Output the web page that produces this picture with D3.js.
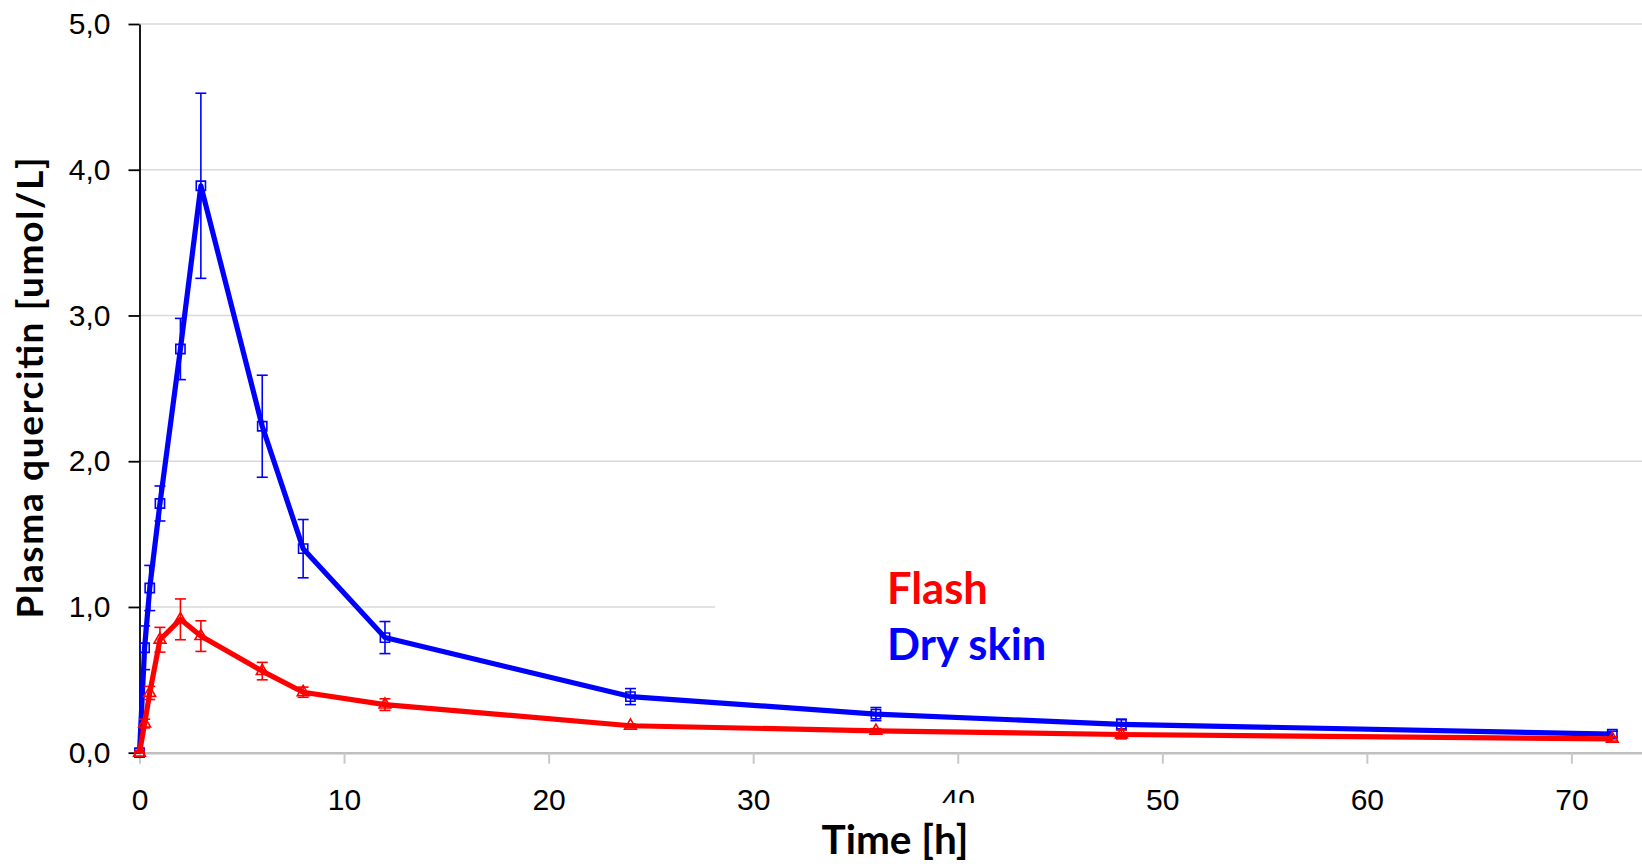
<!DOCTYPE html>
<html>
<head>
<meta charset="utf-8">
<script src="https://cdn.jsdelivr.net/npm/d3@7"></script>
<style>
    body { margin: 0; background: #fff; }
    svg { display: block; }
</style>
</head>
<body>
<svg id="chart" width="1642" height="864"></svg>
<script>
// sampling times [h]
var times = [0, 0.25, 0.5, 1, 2, 3, 6, 8, 12, 24, 36, 48, 72];
// plasma quercitin, mean and error [umol/L]
var drySkin    = [0, 0.72, 1.13, 1.71, 2.77, 3.89, 2.24, 1.40, 0.79, 0.385, 0.265, 0.195, 0.128];
var drySkinErr = [0.01, 0.15, 0.155, 0.12, 0.21, 0.635, 0.35, 0.20, 0.11, 0.055, 0.045, 0.035, 0.02];
var flash      = [0, 0.20, 0.41, 0.775, 0.915, 0.80, 0.56, 0.415, 0.33, 0.185, 0.15, 0.125, 0.095];
var flashErr   = [0.01, 0.03, 0.045, 0.085, 0.14, 0.105, 0.06, 0.035, 0.04, 0.012, 0.015, 0.03, 0.015];
var xTicks = [0, 10, 20, 30, 40, 50, 60, 70];
var yTicks = [0, 1, 2, 3, 4, 5];
var xMax = 73.45;

var svg = d3.select("#chart");
var width = 1642;

var x = d3.scaleLinear().domain([0, xMax]).range([139.5, width]);
var y = d3.scaleLinear().domain([0, 5]).range([752.7, 24]);

var tickFont = "'Liberation Sans', Arial, sans-serif";
var boldFont = "Lato, 'Open Sans', sans-serif";

// horizontal gridlines (the 1,0 line stops short in the original)
svg.append("g").selectAll("line")
    .data(yTicks.filter(function (d) { return d > 0; }))
    .enter().append("line")
    .attr("x1", x(0))
    .attr("x2", function (d) { return d === 1 ? 715 : width; })
    .attr("y1", function (d) { return y(d); })
    .attr("y2", function (d) { return y(d); })
    .attr("stroke", "#d9d9d9")
    .attr("stroke-width", 1.5);

// x axis
var xAxis = svg.append("g")
    .attr("transform", "translate(0," + y(0) + ")")
    .call(d3.axisBottom(x).tickValues(xTicks).tickSize(11).tickSizeOuter(0).tickPadding(25));
xAxis.select(".domain").attr("stroke", "#bfbfbf").attr("stroke-width", 2.5);
xAxis.selectAll(".tick line").attr("stroke", "#c8c8c8").attr("stroke-width", 2);
xAxis.selectAll(".tick text")
    .attr("font-family", tickFont)
    .attr("font-size", 30)
    .attr("fill", "#000");

// y axis
var yAxis = svg.append("g")
    .attr("transform", "translate(" + x(0) + ",0)")
    .call(d3.axisLeft(y).tickValues(yTicks).tickSize(11).tickSizeOuter(0).tickPadding(18)
        .tickFormat(function (d) { return d3.format(".1f")(d).replace(".", ","); }));
yAxis.select(".domain").attr("stroke", "#000").attr("stroke-width", 1.8);
yAxis.selectAll(".tick line").attr("stroke", "#000").attr("stroke-width", 1.8);
yAxis.selectAll(".tick text")
    .attr("font-family", tickFont)
    .attr("font-size", 30)
    .attr("fill", "#000");

// the "40" label is cut at the bottom in the original
svg.append("rect")
    .attr("x", x(40) - 25).attr("y", 803)
    .attr("width", 50).attr("height", 14)
    .attr("fill", "#fff");

// axis titles
svg.append("text")
    .attr("transform", "translate(43," + 388 + ") rotate(-90)")
    .attr("text-anchor", "middle")
    .attr("font-family", boldFont)
    .attr("font-weight", "bold")
    .attr("font-size", 37)
    .attr("textLength", 461)
    .attr("lengthAdjust", "spacing")
    .text("Plasma quercitin [umol/L]");

svg.append("text")
    .attr("x", 895).attr("y", 854)
    .attr("text-anchor", "middle")
    .attr("font-family", boldFont)
    .attr("font-weight", "bold")
    .attr("font-size", 40.5)
    .text("Time [h]");

var series = [
    {name: "Dry skin", values: drySkin, err: drySkinErr, color: "#0000ff", marker: "square"},
    {name: "Flash", values: flash, err: flashErr, color: "#ff0000", marker: "triangle"}
];

var line = d3.line()
    .x(function (d) { return x(d.t); })
    .y(function (d) { return y(d.v); });

series.forEach(function (s) {
    var pts = times.map(function (t, i) { return {t: t, v: s.values[i], e: s.err[i]}; });
    var g = svg.append("g");

    // error bars
    var eb = g.append("g").selectAll("g").data(pts).enter().append("g")
        .attr("stroke", s.color).attr("stroke-width", 1.6);
    eb.append("line")
        .attr("x1", function (d) { return x(d.t); })
        .attr("x2", function (d) { return x(d.t); })
        .attr("y1", function (d) { return y(d.v + d.e); })
        .attr("y2", function (d) { return y(Math.max(0, d.v - d.e)); });
    [1, -1].forEach(function (sgn) {
        eb.append("line")
            .attr("x1", function (d) { return x(d.t) - 5.5; })
            .attr("x2", function (d) { return x(d.t) + 5.5; })
            .attr("y1", function (d) { return y(Math.max(0, d.v + sgn * d.e)); })
            .attr("y2", function (d) { return y(Math.max(0, d.v + sgn * d.e)); });
    });

    g.append("path")
        .datum(pts)
        .attr("d", line)
        .attr("fill", "none")
        .attr("stroke", s.color)
        .attr("stroke-width", 5.2)
        .attr("stroke-linejoin", "round");

    var sym = s.marker === "square"
        ? d3.symbol().type(d3.symbolSquare).size(85)
        : d3.symbol().type(d3.symbolTriangle).size(60);
    g.append("g").selectAll("path").data(pts).enter().append("path")
        .attr("d", sym)
        .attr("transform", function (d) { return "translate(" + x(d.t) + "," + y(d.v) + ")"; })
        .attr("fill", "none")
        .attr("stroke", s.color)
        .attr("stroke-width", 1.6);
});

// legend as plain coloured text
svg.append("text")
    .attr("x", 887).attr("y", 604)
    .attr("font-family", boldFont).attr("font-weight", "bold").attr("font-size", 43.5)
    .attr("fill", "#ff0000")
    .text("Flash");
svg.append("text")
    .attr("x", 887).attr("y", 660)
    .attr("font-family", boldFont).attr("font-weight", "bold").attr("font-size", 43.5)
    .attr("fill", "#0000ff")
    .text("Dry skin");
</script>
</body>
</html>
